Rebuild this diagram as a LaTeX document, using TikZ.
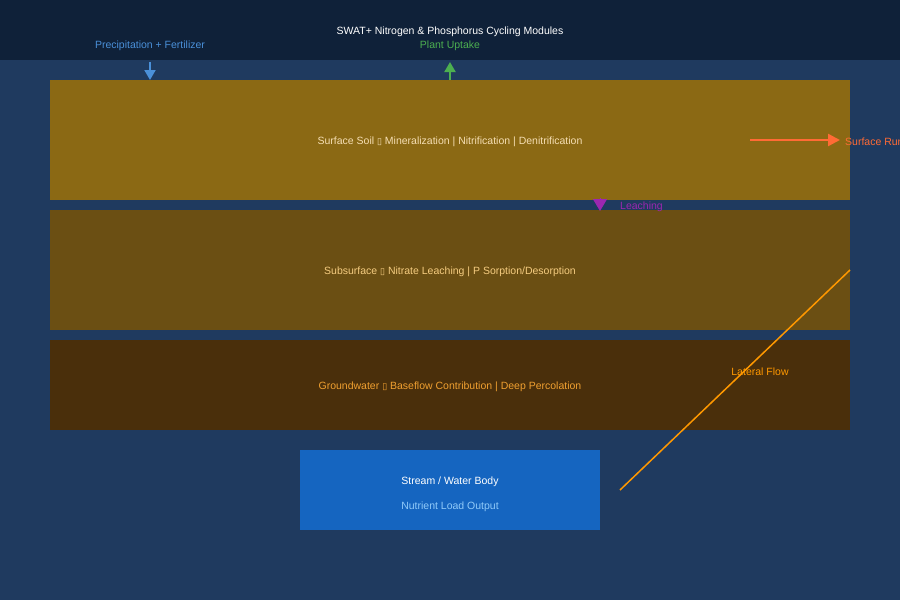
\documentclass[tikz,border=0pt]{standalone}
\usepackage{fontspec}
\setmainfont{Liberation Sans}
\newfontfamily\symfont{DejaVu Sans}
\usetikzlibrary{arrows.meta}
\definecolor{bgc}{HTML}{1F3A5F}
\definecolor{topc}{HTML}{0F2139}
\definecolor{soilA}{HTML}{8B6914}
\definecolor{soilB}{HTML}{6B4F13}
\definecolor{soilC}{HTML}{4A2F0B}
\definecolor{streamc}{HTML}{1565C0}
\definecolor{precc}{HTML}{4A90D9}
\definecolor{plantc}{HTML}{4CAF50}
\definecolor{runc}{HTML}{FF6B35}
\definecolor{leachc}{HTML}{9C27B0}
\definecolor{latc}{HTML}{FF9800}
\definecolor{txtA}{HTML}{F5DEB3}
\definecolor{txtB}{HTML}{F5CC80}
\definecolor{txtC}{HTML}{F0A030}
\definecolor{txtD}{HTML}{90CAF9}
\newcommand{\bx}{{\symfont\fontsize{9}{10}\selectfont ▯}}
\begin{document}
\begin{tikzpicture}[x=1pt,y=-1pt,
  layer/.style={draw=none,minimum width=800pt,inner sep=0pt,anchor=north west},
  lbl/.style={font=\fontsize{10.5}{12}\selectfont,inner sep=0pt,yshift=-1.5pt},
]
\useasboundingbox (0,0) rectangle (900,600);
\fill[bgc] (0,0) rectangle (900,600);
\fill[topc] (0,0) rectangle (900,60);
\node[lbl,text=white] (title) at (450,30) {SWAT+ Nitrogen \& Phosphorus Cycling Modules};
\node[lbl,text=precc] (prec) at (150,44) {Precipitation + Fertilizer};
\node[lbl,text=plantc] (plant) at (450,44) {Plant Uptake};
% layers
\node[layer,fill=soilA,minimum height=120pt] (surf) at (50,80) {};
\node[layer,fill=soilB,minimum height=120pt] (sub) at (50,210) {};
\node[layer,fill=soilC,minimum height=90pt] (gw) at (50,340) {};
\node[lbl,text=txtA] (surft) at (450,140) {Surface Soil \bx{} Mineralization | Nitrification | Denitrification};
\node[lbl,text=txtB] (subt) at (450,270) {Subsurface \bx{} Nitrate Leaching | P Sorption/Desorption};
\node[lbl,text=txtC] (gwt) at (450,385) {Groundwater \bx{} Baseflow Contribution | Deep Percolation};
% stream
\node[fill=streamc,minimum width=300pt,minimum height=80pt,inner sep=0pt,anchor=north west] (stream) at (300,450) {};
\node[lbl,text=white] (streamt) at (450,480) {Stream / Water Body};
\node[lbl,text=txtD] (streamo) at (450,505) {Nutrient Load Output};
% arrows
\coordinate (p1) at (150,62);
\coordinate (p2) at (150,80);
\draw[precc,line width=2pt,-{Triangle[length=10pt,width=11pt]}] (p1) -- (p2);
\coordinate (u1) at (450,80);
\coordinate (u2) at (450,62);
\draw[plantc,line width=2pt,-{Triangle[length=10pt,width=11pt]}] (u1) -- (u2);
\coordinate (r1) at (750,140);
\coordinate (r2) at (840,140);
\draw[runc,line width=2.5pt,-{Triangle[length=12pt,width=12pt]}] (r1) -- (r2);
\node[lbl,text=runc,anchor=west] (runt) at (845,140) {Surface Runoff};
\coordinate (l1) at (600,198);
\coordinate (l2) at (600,211);
\draw[leachc,line width=1pt,-{Triangle[length=12pt,width=14pt]}] (l1) -- (l2);
\node[lbl,text=leachc,anchor=west] (leacht) at (620,205) {Leaching};
\coordinate (f1) at (850,270);
\coordinate (f2) at (620,490);
\draw[latc,line width=1.5pt] (f1) -- (f2);
\node[lbl,text=latc] (latt) at (760,370) {Lateral Flow};
\end{tikzpicture}
\end{document}
